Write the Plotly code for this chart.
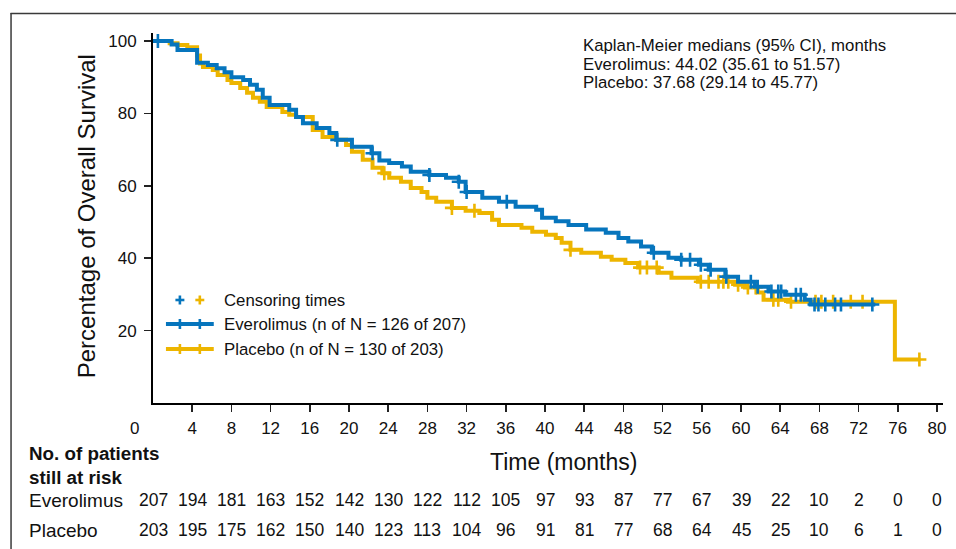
import numpy as np
import plotly.graph_objects as go

# ---------------- data ----------------
evero_times = [1.9, 2.5, 4.5, 5.6, 6.5, 7.3, 8.0, 9.2, 9.9, 10.6, 11.2, 11.9, 13.9, 14.6, 15.3,
               16.7, 18.0, 18.7, 20.3, 22.3, 23.1, 24.1, 25.4, 26.3, 28.2, 29.9, 31.2, 31.9,
               33.6, 35.3, 37.0, 39.1, 39.7, 41.1, 42.4, 44.2, 46.2, 47.5, 48.5, 49.8, 50.9,
               52.6, 53.9, 55.7, 56.7, 58.4, 59.7, 61.4, 62.8, 64.5, 66.5, 67.1]
evero_surv = [99.0, 97.5, 94.0, 93.4, 92.5, 91.4, 90.0, 89.2, 87.9, 86.5, 84.3, 82.3, 81.0, 79.0, 77.3,
              76.0, 74.6, 72.7, 70.8, 69.0, 67.0, 66.3, 65.3, 63.9, 63.0, 62.2, 61.1, 58.3,
              56.7, 55.6, 54.2, 53.4, 51.2, 50.2, 49.2, 47.9, 47.0, 45.6, 44.6, 43.2, 41.5,
              40.1, 39.6, 38.2, 36.8, 34.9, 33.5, 32.1, 30.8, 29.9, 28.5, 27.2]
evero_last = 73.7
evero_censor = [0.5, 18.8, 22.4, 28.2, 31.2, 32.0, 36.1, 51.1, 53.9, 54.8, 55.9, 56.9, 58.5, 61.0,
                61.7, 63.1, 63.8, 64.1, 65.6, 66.1, 67.5, 67.9, 68.6, 69.6, 70.2, 73.4]

plac_times = [1.7, 2.5, 3.5, 4.5, 4.8, 5.1, 6.1, 6.6, 7.6, 8.0, 8.9, 9.6, 10.2, 10.9, 11.6, 13.2,
              13.9, 14.6, 16.3, 17.3, 18.7, 19.7, 20.3, 21.4, 22.4, 23.4, 24.1, 25.3, 26.3, 27.4,
              28.0, 28.9, 30.5, 31.9, 33.3, 34.6, 35.3, 37.6, 38.7, 40.1, 41.1, 41.7, 42.6, 43.7,
              45.7, 46.8, 48.2, 49.5, 51.6, 52.9, 55.6, 59.4, 60.4, 61.7, 62.3, 64.8, 75.7]
plac_surv = [99.4, 98.9, 98.3, 96.0, 93.8, 92.8, 92.0, 90.6, 89.2, 88.4, 87.0, 85.7, 84.3, 83.2, 81.8, 80.4,
             79.6, 79.0, 75.4, 73.5, 72.7, 71.3, 69.4, 67.2, 65.0, 63.5, 62.2, 61.1, 59.4, 58.3,
             56.7, 55.6, 53.9, 53.1, 52.5, 50.6, 49.2, 48.4, 47.3, 46.5, 45.6, 44.3, 42.3, 41.5,
             40.4, 39.6, 38.7, 37.4, 36.0, 34.6, 33.5, 32.7, 31.9, 30.5, 28.5, 28.0, 12.0]
plac_last = 78.3
plac_censor = [23.6, 30.5, 32.8, 42.6, 49.7, 50.4, 51.4, 55.9, 56.7, 57.7, 58.2, 58.7, 59.7, 60.7,
               61.5, 63.3, 63.8, 65.1, 67.6, 68.2, 69.4, 71.2, 72.4, 78.2]

risk_times = [0, 4, 8, 12, 16, 20, 24, 28, 32, 36, 40, 44, 48, 52, 56, 60, 64, 68, 72, 76, 80]
risk_evero = [207, 194, 181, 163, 152, 142, 130, 122, 112, 105, 97, 93, 87, 77, 67, 39, 22, 10, 2, 0, 0]
risk_plac = [203, 195, 175, 162, 150, 140, 123, 113, 104, 96, 91, 81, 77, 68, 64, 45, 25, 10, 6, 1, 0]

x_ticks = [4, 8, 12, 16, 20, 24, 28, 32, 36, 40, 44, 48, 52, 56, 60, 64, 68, 72, 76, 80]
y_ticks = [20, 40, 60, 80, 100]

BLUE = "#0675BD"
GOLD = "#EDB500"
FONT = "Liberation Sans, Arial, sans-serif"

# ---------------- layout geometry (pixels) ----------------
W_FIG, H_FIG = 956, 549
L, R, T, B = 153, 946, 33, 403
PW, PH = R - L, B - T


def px(x):
    return (x - L) / PW


def py(y):
    return (B - y) / PH


def step_xy(times, surv, last):
    xs = [0.0] + list(times) + [last]
    ys = [100.0] + list(surv) + [surv[-1]]
    return xs, ys


def surv_at(times, surv, t):
    tt = np.array([0.0] + list(times))
    ss = np.array([100.0] + list(surv))
    idx = np.searchsorted(tt, t, side="right") - 1
    return ss[idx]


fig = go.Figure()

for name, times, surv, last, cens, col in [
    ("Placebo", plac_times, plac_surv, plac_last, plac_censor, GOLD),
    ("Everolimus", evero_times, evero_surv, evero_last, evero_censor, BLUE),
]:
    xs, ys = step_xy(times, surv, last)
    fig.add_trace(go.Scatter(x=xs, y=ys, mode="lines", line=dict(color=col, width=4, shape="hv"),
                             name=name, showlegend=False, hoverinfo="skip"))
    cy = surv_at(times, surv, np.array(cens))
    fig.add_trace(go.Scatter(x=cens, y=cy, mode="markers",
                             marker=dict(symbol="cross-thin", size=10, color=col,
                                         line=dict(color=col, width=2.6)),
                             showlegend=False, hoverinfo="skip"))

shapes = []
annotations = []

# outer frame (cropped on right / bottom): top edge and left edge
shapes.append(dict(type="line", xref="paper", yref="paper", x0=px(10), x1=px(960), y0=py(13.5), y1=py(13.5),
                   line=dict(color="#3a3a3a", width=1.5), layer="above"))
shapes.append(dict(type="line", xref="paper", yref="paper", x0=px(10.5), x1=px(10.5), y0=py(13), y1=py(560),
                   line=dict(color="#3a3a3a", width=1.5), layer="above"))

# legend
def plus(xc, yc, col, half=5, w=2.6):
    shapes.append(dict(type="line", xref="paper", yref="paper", x0=px(xc - half), x1=px(xc + half),
                       y0=py(yc), y1=py(yc), line=dict(color=col, width=w)))
    shapes.append(dict(type="line", xref="paper", yref="paper", x0=px(xc), x1=px(xc),
                       y0=py(yc - half), y1=py(yc + half), line=dict(color=col, width=w)))

plus(180, 300, BLUE, half=4.5)
plus(200, 300, GOLD, half=4.5)
for yrow, col in [(324, BLUE), (349, GOLD)]:
    shapes.append(dict(type="line", xref="paper", yref="paper", x0=px(166), x1=px(214),
                       y0=py(yrow), y1=py(yrow), line=dict(color=col, width=4)))
    plus(180, yrow, col, half=5)
    plus(200, yrow, col, half=5)

for yrow, txt in [(300, "Censoring times"), (324, "Everolimus (n of N = 126 of 207)"),
                  (349, "Placebo (n of N = 130 of 203)")]:
    annotations.append(dict(x=px(222), y=py(yrow), xref="paper", yref="paper", text=txt,
                            showarrow=False, xanchor="left", yanchor="middle",
                            font=dict(size=16.8, color="#111", family=FONT)))

# medians text
for yrow, txt in [(45, "Kaplan-Meier medians (95% CI), months"),
                  (64, "Everolimus: 44.02 (35.61 to 51.57)"),
                  (83, "Placebo: 37.68 (29.14 to 45.77)")]:
    annotations.append(dict(x=px(583), y=py(yrow), xref="paper", yref="paper", text=txt,
                            showarrow=False, xanchor="left", yanchor="middle",
                            font=dict(size=16.8, color="#111", family=FONT)))

# axis titles
annotations.append(dict(x=px(86), y=py(216), xref="paper", yref="paper",
                        text="Percentage of Overall Survival", textangle=-90, showarrow=False,
                        xanchor="center", yanchor="middle", font=dict(size=24, color="#111", family=FONT)))
annotations.append(dict(x=px(565), y=py(462), xref="paper", yref="paper", text="Time (months)",
                        showarrow=False, xanchor="center", yanchor="middle",
                        font=dict(size=23, color="#111", family=FONT)))
# origin label
annotations.append(dict(x=px(134), y=py(428), xref="paper", yref="paper", text="0",
                        showarrow=False, xanchor="center", yanchor="middle",
                        font=dict(size=17, color="#111", family=FONT)))

# risk table
annotations.append(dict(x=px(27), y=py(453), xref="paper", yref="paper", text="<b>No. of patients</b>",
                        showarrow=False, xanchor="left", yanchor="middle",
                        font=dict(size=18.8, color="#111", family=FONT)))
annotations.append(dict(x=px(27), y=py(477), xref="paper", yref="paper", text="<b>still at risk</b>",
                        showarrow=False, xanchor="left", yanchor="middle",
                        font=dict(size=18.8, color="#111", family=FONT)))
for yrow, label, vals in [(500, "Everolimus", risk_evero), (530, "Placebo", risk_plac)]:
    annotations.append(dict(x=px(27), y=py(yrow), xref="paper", yref="paper", text=label,
                            showarrow=False, xanchor="left", yanchor="middle",
                            font=dict(size=19, color="#111", family=FONT)))
    for t, v in zip(risk_times, vals):
        annotations.append(dict(x=t, y=py(yrow), xref="x", yref="paper", text=str(v),
                                showarrow=False, xanchor="center", yanchor="middle",
                                font=dict(size=17.5, color="#111", family=FONT)))

fig.update_layout(
    width=W_FIG, height=H_FIG,
    margin=dict(l=L, r=W_FIG - R, t=T, b=H_FIG - B, pad=0),
    paper_bgcolor="white", plot_bgcolor="white",
    showlegend=False,
    shapes=shapes, annotations=annotations,
    xaxis=dict(range=[0, 80 * PW / (940 - L)], tickvals=x_ticks, ticktext=[str(v) for v in x_ticks],
               showgrid=False, zeroline=False, showline=True, linecolor="black", linewidth=2,
               ticks="outside", ticklen=7, tickwidth=1.5, tickcolor="#222",
               tickfont=dict(size=17, color="#111", family=FONT), ticklabelstandoff=2,
               fixedrange=True),
    yaxis=dict(range=[0, PH / 3.62], tickvals=y_ticks, ticktext=[str(v) for v in y_ticks],
               showgrid=False, zeroline=False, showline=True, linecolor="black", linewidth=2,
               ticks="outside", ticklen=7, tickwidth=1.5, tickcolor="#222",
               tickfont=dict(size=17, color="#111", family=FONT), ticklabelstandoff=4,
               fixedrange=True),
)

fig.write_html("out.html", config={"displayModeBar": False, "staticPlot": True},
               post_script="document.body.style.margin='0px';document.body.style.overflow='hidden';")
